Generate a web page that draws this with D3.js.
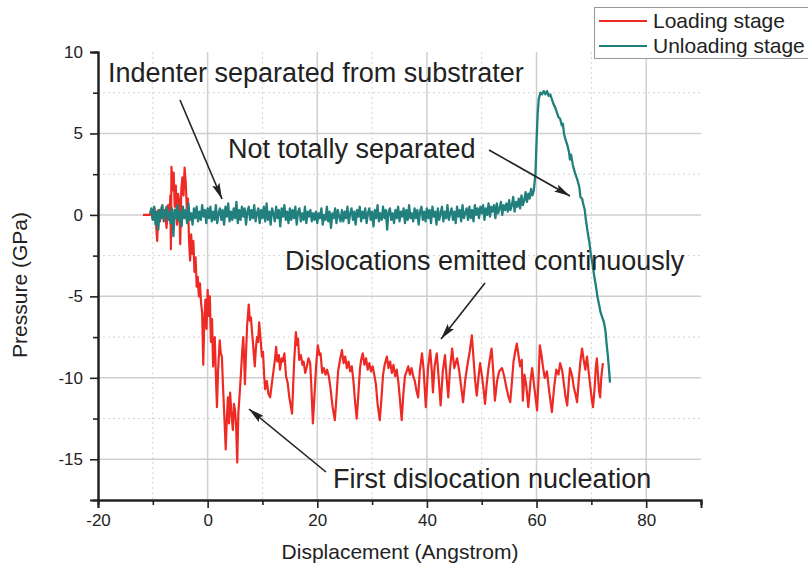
<!DOCTYPE html>
<html>
<head>
<meta charset="utf-8">
<script src="https://cdn.jsdelivr.net/npm/d3@7"></script>
<style>
  body { margin: 0; background: #fff; }
  svg text { font-family: Arial, "Liberation Sans", sans-serif; fill: #222; }
</style>
</head>
<body>
<svg id="chart" width="808" height="569"></svg>
<script>
// series names
const seriesNames = ["Loading stage", "Unloading stage"];

// loading stage, [displacement, pressure]
const loading = [
  [-11.8,0],[-10.6,0],[-10.3,0.2],[-10.0,-0.3],[-9.7,0.4],[-9.4,-0.6],[-9.2,-1.6],[-9.0,0.3],[-8.7,-0.4],[-8.4,0.5],
  [-8.1,-0.2],[-7.8,0.3],[-7.5,-0.8],[-7.2,0.6],[-7.0,-0.3],[-6.8,1.2],[-6.7,-2.1],[-6.6,2.95],[-6.4,1.5],[-6.2,2.6],
  [-6.0,0.5],[-5.8,1.8],[-5.6,-0.6],[-5.4,1.3],[-5.2,0.9],[-5.0,-1.8],[-4.8,1.6],[-4.6,2.3],[-4.4,1.2],[-4.2,2.9],
  [-4.0,2.0],[-3.8,0.4],[-3.6,1.0],[-3.4,-1.5],[-3.2,-2.8],[-3.0,-1.2],[-2.8,-2.4],[-2.6,-1.6],[-2.4,-3.5],[-2.2,-2.6],
  [-2.0,-4.4],[-1.8,-3.8],[-1.6,-5.0],[-1.4,-4.2],[-1.2,-5.4],[-1.0,-6.0],[-0.8,-9.2],[-0.6,-6.5],[-0.4,-5.2],[-0.2,-7.0],
  [0.0,-4.6],[0.2,-6.2],[0.4,-5.0],[0.6,-7.8],[0.8,-6.4],[1.0,-9.3],[1.2,-8.0],[1.3,-7.5],[1.5,-9.8],[1.7,-11.8],
  [1.9,-9.6],[2.2,-7.7],[2.4,-8.5],[2.6,-8.7],[2.8,-10.5],[3.0,-12.0],[3.3,-14.4],[3.5,-12.5],[3.7,-11.2],[3.9,-12.8],
  [4.1,-10.9],[4.3,-12.0],[4.6,-13.2],[4.8,-11.6],[5.0,-12.0],[5.2,-13.0],[5.4,-15.2],[5.6,-12.2],[5.9,-10.7],[6.1,-9.6],
  [6.3,-8.4],[6.5,-7.5],[6.7,-9.2],[6.8,-10.4],[7.0,-8.5],[7.2,-6.8],[7.5,-5.5],[7.7,-6.5],[7.9,-6.3],[8.1,-7.2],
  [8.3,-8.0],[8.6,-9.3],[8.8,-8.2],[9.0,-7.5],[9.2,-7.8],[9.4,-6.6],[9.6,-7.4],[9.9,-8.7],[10.1,-8.4],[10.3,-9.8],
  [10.5,-10.7],[10.8,-10.2],[11.1,-11.0],[11.4,-11.2],[11.7,-10.4],[12.0,-9.6],[12.3,-8.8],[12.5,-8.1],[12.7,-9.0],[13.0,-8.6],
  [13.2,-9.5],[13.5,-8.8],[13.7,-9.0],[14.0,-8.5],[14.3,-9.9],[14.6,-10.3],[14.9,-11.2],[15.2,-11.8],[15.4,-12.2],[15.6,-10.5],
  [15.8,-8.9],[16.1,-7.2],[16.3,-8.0],[16.5,-7.6],[16.7,-8.9],[17.0,-8.6],[17.3,-9.2],[17.5,-9.0],[17.8,-9.7],[18.1,-9.3],
  [18.4,-8.8],[18.7,-9.1],[18.9,-10.4],[19.2,-12.8],[19.5,-11.0],[19.8,-9.2],[20.1,-8.0],[20.4,-8.6],[20.6,-8.5],[20.9,-9.7],
  [21.2,-9.4],[21.5,-9.8],[21.8,-9.5],[22.1,-9.9],[22.4,-10.6],[22.8,-11.8],[23.2,-12.6],[23.5,-11.2],[23.8,-9.6],[24.1,-9.0],
  [24.5,-8.3],[24.8,-9.1],[25.1,-8.7],[25.4,-9.4],[25.7,-9.0],[26.0,-9.6],[26.3,-9.3],[26.6,-10.2],[26.9,-11.5],[27.2,-12.5],
  [27.5,-11.0],[27.8,-9.4],[28.0,-8.9],[28.3,-8.5],[28.6,-9.2],[28.9,-8.8],[29.2,-9.5],[29.5,-9.1],[29.8,-9.6],[30.1,-9.3],
  [30.4,-9.8],[30.7,-10.4],[31.0,-11.6],[31.4,-12.6],[31.7,-11.3],[32.0,-9.8],[32.3,-9.2],[32.7,-8.7],[33.0,-9.4],[33.3,-9.0],
  [33.6,-9.7],[33.9,-9.2],[34.2,-9.9],[34.5,-9.5],[34.8,-10.3],[35.1,-11.4],[35.4,-12.6],[35.7,-11.0],[36.0,-9.9],[36.3,-9.6],
  [36.6,-9.3],[36.9,-9.8],[37.2,-9.4],[37.5,-9.9],[37.8,-10.2],[38.1,-10.8],[38.4,-11.2],[38.7,-9.6],[39.1,-8.5],[39.4,-9.5],
  [39.8,-11.8],[40.2,-9.4],[40.6,-8.3],[40.9,-9.6],[41.1,-10.9],[41.4,-9.3],[41.8,-8.5],[42.1,-9.8],[42.5,-11.7],[42.9,-9.6],
  [43.3,-8.6],[43.6,-10.0],[43.9,-11.2],[44.2,-9.5],[44.6,-8.2],[45.0,-9.4],[45.5,-8.8],[45.9,-9.6],[46.2,-10.4],[46.6,-11.5],
  [47.0,-10.1],[47.4,-9.2],[47.8,-8.4],[48.2,-7.4],[48.5,-8.8],[48.8,-10.2],[49.1,-11.1],[49.4,-10.0],[49.7,-9.1],[50.0,-9.8],
  [50.3,-10.6],[50.6,-11.6],[50.9,-10.4],[51.2,-9.5],[51.5,-8.8],[51.8,-8.2],[52.1,-9.6],[52.4,-11.4],[52.8,-10.2],[53.2,-9.6],
  [53.7,-9.4],[54.1,-9.9],[54.5,-10.6],[54.9,-11.2],[55.2,-11.5],[55.5,-10.3],[55.8,-9.0],[56.1,-8.4],[56.4,-7.9],[56.7,-8.6],
  [57.0,-9.3],[57.3,-8.9],[57.5,-11.4],[57.8,-9.8],[58.1,-10.4],[58.5,-11.8],[58.9,-10.2],[59.2,-9.4],[59.6,-10.6],[60.1,-12.0],
  [60.4,-9.8],[60.6,-8.0],[60.9,-8.6],[61.2,-9.4],[61.5,-10.0],[61.9,-9.6],[62.3,-10.8],[62.8,-12.1],[63.2,-10.6],[63.6,-9.5],
  [64.0,-9.8],[64.3,-9.1],[64.7,-9.6],[65.0,-10.4],[65.3,-11.2],[65.6,-11.7],[65.9,-10.2],[66.1,-9.4],[66.5,-9.9],[66.8,-10.6],
  [67.1,-11.0],[67.4,-11.5],[67.7,-10.1],[68.0,-9.0],[68.3,-8.2],[68.6,-8.9],[68.9,-9.5],[69.2,-8.7],[69.5,-9.6],[69.8,-10.5],
  [70.1,-11.4],[70.3,-11.8],[70.6,-10.6],[70.8,-9.4],[71.0,-8.8],[71.2,-9.8],[71.4,-10.8],[71.6,-11.2],[71.8,-10.0],[72.1,-9.1]
];

// unloading stage, flat noisy part: pressure sampled every 0.25 A from -10.5
const unloadStart = -10.5, unloadStep = 0.25;
const unloadNoise = [
  0.1,0.4,-0.3,0.5,-0.6,0.2,-0.9,0.3,-0.2,0.6,-0.4,0.1,0.5,-0.3,0.2,-0.5,0.4,-1.3,0.3,-0.2,
  0.6,-0.4,0.2,-0.7,0.5,-0.2,0.3,-0.5,0.7,-0.3,0.1,-0.6,0.4,-0.2,0.5,-0.4,0.2,-0.3,0.6,-0.1,
  0.3,-0.5,0.4,-0.2,0.5,-0.4,0.2,-0.3,0.6,-0.5,0.1,0.4,-0.3,0.3,-0.6,0.5,-0.1,0.7,-0.4,0.2,
  -0.3,0.4,-0.2,0.8,-0.5,0.3,-0.3,0.5,-0.1,0.4,-0.6,0.2,0.5,-0.3,0.3,-0.2,0.6,-0.4,0.1,0.4,
  -0.5,0.3,-0.2,0.5,-0.4,0.7,-0.3,0.2,-0.6,0.4,0.1,-0.4,0.5,-0.2,0.3,-0.7,0.4,-0.1,0.6,-0.3,
  0.2,-0.5,0.4,-0.3,0.3,-0.2,0.5,-0.6,0.2,0.4,-0.4,0.1,-0.3,0.5,-0.5,0.2,-0.1,0.3,-0.4,0.1,
  -0.3,0.2,-0.5,0.1,-0.2,0.4,-0.6,0.0,-0.3,0.5,-0.4,0.2,-0.8,0.1,-0.2,0.4,-0.5,0.3,-0.1,-0.4,
  0.3,-0.4,0.2,-0.2,0.5,-0.5,0.1,0.4,-0.3,0.2,-0.6,0.3,-0.1,0.5,-0.4,0.2,-0.2,0.4,-0.5,0.1,
  0.4,-0.3,0.2,-0.7,0.3,-0.2,0.6,-0.4,0.1,-0.3,0.5,-0.2,0.3,-0.9,0.2,0.4,-0.3,0.1,-0.5,0.3,
  -0.2,0.5,-0.4,0.2,-0.1,0.4,-0.5,0.3,-0.3,0.6,-0.2,0.1,-0.4,0.4,-0.2,0.3,-0.6,0.2,0.5,-0.3,
  0.2,-0.4,0.4,-0.2,0.3,-0.5,0.5,-0.1,0.2,-0.6,0.4,-0.3,0.1,0.5,-0.4,0.2,-0.2,0.6,-0.3,0.1,
  0.4,-0.3,0.2,-0.5,0.5,-0.1,0.3,-0.4,0.6,-0.2,0.1,0.4,-0.3,0.5,-0.2,0.3,-0.4,0.6,0.0,0.4,
  -0.2,0.5,0.1,0.6,-0.3,0.4,0.0,0.7,-0.1,0.5,0.2,0.6,-0.2,0.7,0.1,0.4,0.8,0.0,0.6,0.3,
  0.7,0.2,0.9,0.3,0.6,1.1,0.2,0.8,0.5,1.0,0.4,1.2,0.6,0.9,1.4,0.8,1.3,1.0,1.6,1.2
];

// unloading stage, peak and drop, [displacement, pressure]
const unloadPeak = [
  [59.5,1.5],[59.8,2.5],[60.0,4.5],[60.2,6.2],[60.4,7.1],[60.7,7.5],[61.0,7.4],[61.3,7.6],[61.6,7.4],[61.9,7.6],
  [62.2,7.3],[62.5,7.4],[62.8,7.1],[63.1,6.8],[63.4,6.6],[63.7,6.3],[64.0,6.0],[64.3,5.9],[64.6,5.5],[64.8,5.6],
  [65.0,5.0],[65.3,4.6],[65.6,4.3],[65.9,3.9],[66.1,3.4],[66.3,3.7],[66.6,3.1],[66.9,2.7],[67.2,2.4],[67.5,2.1],
  [67.8,1.7],[68.0,1.1],[68.3,1.0],[68.5,0.7],[68.8,0.3],[69.0,-0.3],[69.3,-1.0],[69.6,-1.6],[69.9,-2.4],[70.2,-3.0],
  [70.5,-3.7],[70.8,-4.3],[71.1,-5.0],[71.4,-5.5],[71.7,-6.0],[72.0,-6.3],[72.3,-6.6],[72.6,-7.2],[72.8,-8.0],[73.0,-8.6],
  [73.2,-9.4],[73.4,-10.3]
];

const xTicks = [-20, 0, 20, 40, 60, 80];
const xMinor = [-10, 10, 30, 50, 70, 90];
const yTicks = [-15, -10, -5, 0, 5, 10];
const yMinor = [-12.5, -7.5, -2.5, 2.5, 7.5];

const notes = [
  { text: "Indenter separated from substrater", x: 108, y: 82, from: [180, 100], to: [222, 199] },
  { text: "Not totally separated", x: 228, y: 158, from: [489, 150], to: [570, 196] },
  { text: "Dislocations emitted continuously", x: 285, y: 270, from: [485, 283], to: [441, 339] },
  { text: "First dislocation nucleation", x: 333, y: 488, from: [326, 472], to: [249, 409] }
];

const unloading = unloadNoise.map((v, i) => [unloadStart + i * unloadStep, v]).concat(unloadPeak);

const red = "#ee2a24", teal = "#21807d";

const svg = d3.select("#chart");
const x = d3.scaleLinear().domain([-20, 90]).range([98, 701]);
const y = d3.scaleLinear().domain([-17.5, 10]).range([500, 52]);

// grid
const grid = svg.append("g");
grid.selectAll(".gx").data(xMinor.filter(d => d < 90)).join("line")
  .attr("x1", d => x(d)).attr("x2", d => x(d)).attr("y1", y(10)).attr("y2", y(-17.5))
  .attr("stroke", "#d4d4d4").attr("stroke-dasharray", "2,3");
grid.selectAll(".gy").data(yMinor).join("line")
  .attr("x1", x(-20)).attr("x2", x(90)).attr("y1", d => y(d)).attr("y2", d => y(d))
  .attr("stroke", "#d4d4d4").attr("stroke-dasharray", "2,3");
grid.selectAll(".Gx").data(xTicks.filter(d => d > -20)).join("line")
  .attr("x1", d => x(d)).attr("x2", d => x(d)).attr("y1", y(10)).attr("y2", y(-17.5))
  .attr("stroke", "#cfcfcf").attr("stroke-width", 1.5);
grid.selectAll(".Gy").data(yTicks.filter(d => d < 10)).join("line")
  .attr("x1", x(-20)).attr("x2", x(90)).attr("y1", d => y(d)).attr("y2", d => y(d))
  .attr("stroke", "#cfcfcf").attr("stroke-width", 1.5);

// data lines
const line = d3.line().x(d => x(d[0])).y(d => y(d[1]));
svg.append("path").datum(loading).attr("d", line)
  .attr("fill", "none").attr("stroke", red).attr("stroke-width", 2.2).attr("stroke-linejoin", "round");
svg.append("path").datum(unloading).attr("d", line)
  .attr("fill", "none").attr("stroke", teal).attr("stroke-width", 2.3).attr("stroke-linejoin", "round");

// axes
const fmt = d => String(d);
const xAxis = svg.append("g").attr("transform", `translate(0,${y(-17.5)})`);
xAxis.call(d3.axisBottom(x).tickValues(xMinor).tickSize(5).tickFormat(""));
xAxis.call(g => g.append("g").call(d3.axisBottom(x).tickValues(xTicks).tickSize(8).tickPadding(6).tickFormat(fmt)));
const yAxis = svg.append("g").attr("transform", `translate(${x(-20)},0)`);
yAxis.call(d3.axisLeft(y).tickValues(yMinor).tickSize(5).tickFormat(""));
yAxis.call(g => g.append("g").call(d3.axisLeft(y).tickValues(yTicks).tickSize(8).tickPadding(7).tickFormat(fmt)));
svg.selectAll(".domain").attr("stroke", "#222").attr("stroke-width", 2);
svg.selectAll(".tick line").attr("stroke", "#222").attr("stroke-width", 1.6);
svg.selectAll(".tick text").attr("font-size", 17).attr("fill", "#333")
  .attr("font-family", "Arial, 'Liberation Sans', sans-serif");

// axis titles
svg.append("text").attr("x", 400).attr("y", 559).attr("text-anchor", "middle")
  .attr("font-size", 21).attr("fill", "#333").text("Displacement (Angstrom)");
svg.append("text").attr("transform", "translate(27,285) rotate(-90)").attr("text-anchor", "middle")
  .attr("font-size", 21).attr("fill", "#333").text("Pressure (GPa)");

// annotations
svg.append("defs").append("marker").attr("id", "ah")
  .attr("viewBox", "0 0 16 8").attr("refX", 16).attr("refY", 4)
  .attr("markerWidth", 16).attr("markerHeight", 8).attr("markerUnits", "userSpaceOnUse")
  .attr("orient", "auto")
  .append("path").attr("d", "M0,0 L16,4 L0,8 L3,4 Z").attr("fill", "#222");
notes.forEach(n => {
  svg.append("text").attr("x", n.x).attr("y", n.y).attr("font-size", 27).text(n.text);
  svg.append("line").attr("x1", n.from[0]).attr("y1", n.from[1]).attr("x2", n.to[0]).attr("y2", n.to[1])
    .attr("stroke", "#222").attr("stroke-width", 1.6).attr("marker-end", "url(#ah)");
});

// legend
const lg = svg.append("g");
lg.append("rect").attr("x", 594.5).attr("y", 7.5).attr("width", 230).attr("height", 51)
  .attr("fill", "#fff").attr("stroke", "#999");
[red, teal].forEach((c, i) => {
  lg.append("line").attr("x1", 599).attr("x2", 647).attr("y1", 21 + i * 25).attr("y2", 21 + i * 25)
    .attr("stroke", c).attr("stroke-width", 1.8);
  lg.append("text").attr("x", 653).attr("y", 28 + i * 25).attr("font-size", 21).text(seriesNames[i]);
});
</script>
</body>
</html>
